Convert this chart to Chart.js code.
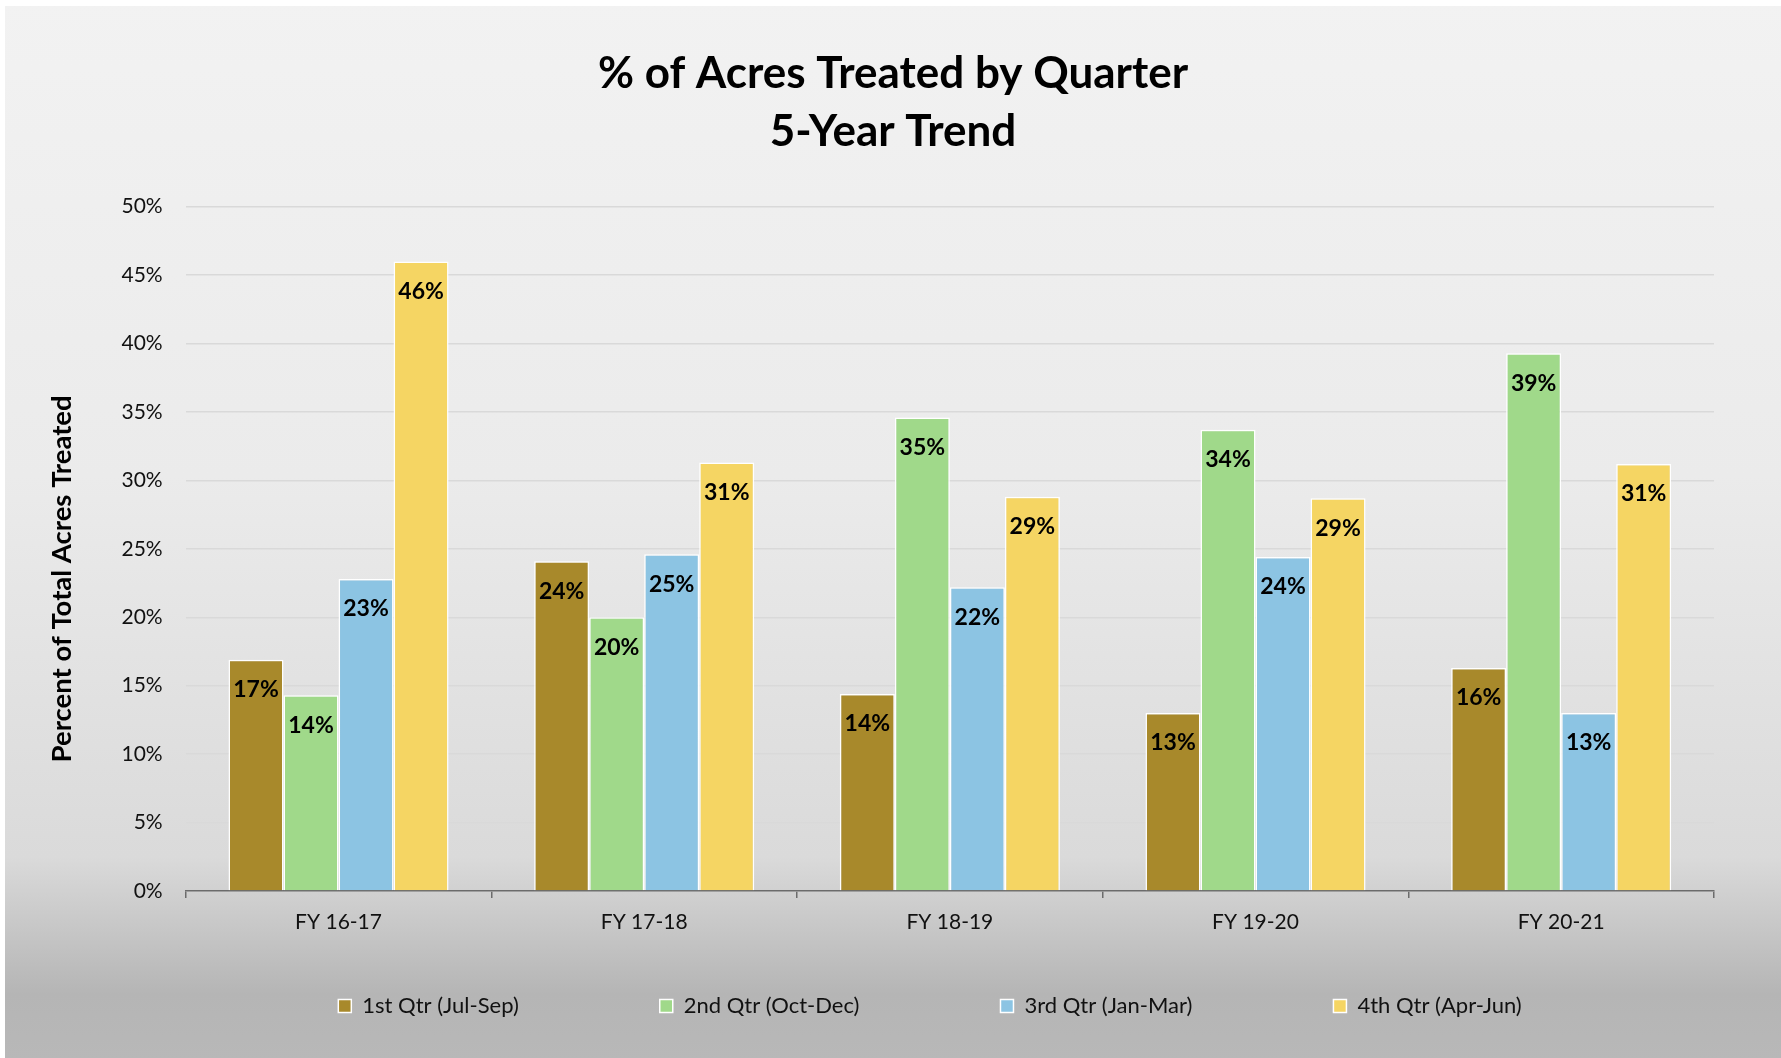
<!DOCTYPE html>
<html><head><meta charset="utf-8">
<script src="https://cdn.jsdelivr.net/npm/chart.js@4.4.1/dist/chart.umd.min.js"></script>
<style>html,body{margin:0;padding:0;background:#fff;overflow:hidden}canvas{display:block}</style>
</head><body>
<canvas id="c" width="1781" height="1058"></canvas>
<script>
const titleLines = ['% of Acres Treated by Quarter', '5-Year Trend'];
const yAxisTitle = 'Percent of Total Acres Treated';
const categories = ['FY 16-17', 'FY 17-18', 'FY 18-19', 'FY 19-20', 'FY 20-21'];
const seriesNames = ['1st Qtr (Jul-Sep)', '2nd Qtr (Oct-Dec)', '3rd Qtr (Jan-Mar)', '4th Qtr (Apr-Jun)'];
const q1Values = [16.9, 24.1, 14.4, 13.0, 16.3];
const q2Values = [14.3, 20.0, 34.6, 33.7, 39.3];
const q3Values = [22.8, 24.6, 22.2, 24.4, 13.0];
const q4Values = [46.0, 31.3, 28.8, 28.7, 31.2];
const yMin = 0, yMax = 50, yStep = 5;
const seriesColors = ['#a8892b', '#a0d98a', '#8cc4e3', '#f5d563'];

const FONT = 'Lato';

const bgPlugin = {
  id: 'bg',
  beforeDraw(chart) {
    const { ctx, width, height } = chart;
    const g = ctx.createLinearGradient(0, 0, 0, height);
    g.addColorStop(0, '#f2f2f2');
    g.addColorStop(0.45, '#ebebeb');
    g.addColorStop(0.81, '#dadada');
    g.addColorStop(0.94, '#b5b5b5');
    g.addColorStop(1, '#b8b8b8');
    ctx.save();
    ctx.fillStyle = g;
    ctx.fillRect(5, 6, width - 5, height - 6);
    ctx.restore();
  }
};

const legendShift = {
  id: 'legendShift',
  afterLayout(chart) {
    const lg = chart.legend;
    if (!lg) return;
    const dx = 930 - (lg.left + lg.right) / 2;
    lg.left += dx; lg.right += dx;
    const pad = lg.options.labels.padding;
    const fs = lg.options.labels.font.size;
    const ih = Math.max(fs, lg.options.labels.boxHeight);
    lg.top = 1006 - pad - ih / 2;
  }
};

const valueLabels = {
  id: 'valueLabels',
  afterDatasetsDraw(chart) {
    const ctx = chart.ctx;
    ctx.save();
    ctx.font = 'bold 23px ' + FONT;
    ctx.fillStyle = '#000';
    ctx.textAlign = 'center';
    ctx.textBaseline = 'middle';
    chart.data.datasets.forEach((ds, i) => {
      chart.getDatasetMeta(i).data.forEach((el, j) => {
        ctx.fillText(Math.round(ds.data[j]) + '%', el.x, el.y + 30);
      });
    });
    ctx.restore();
  }
};

const allValues = [q1Values, q2Values, q3Values, q4Values];

new Chart(document.getElementById('c'), {
  type: 'bar',
  data: {
    labels: categories,
    datasets: seriesNames.map((name, i) => ({
      label: name,
      data: allValues[i],
      backgroundColor: seriesColors[i],
      borderColor: '#ffffff',
      borderWidth: 1.5,
      borderSkipped: 'start',
      categoryPercentage: 0.72,
      barPercentage: 1.0
    }))
  },
  options: {
    responsive: false,
    animation: false,
    devicePixelRatio: 1,
    layout: { padding: { left: 5, top: 6, right: 0, bottom: 0 } },
    plugins: {
      title: {
        display: true,
        text: titleLines,
        color: '#000',
        font: { family: FONT, size: 44, weight: 'bold', lineHeight: 1.318 },
        padding: { top: 38.5, bottom: 46.2 }
      },
      legend: {
        display: true,
        position: 'bottom',
        maxHeight: 76,
        labels: {
          padding: 141,
          boxWidth: 13,
          boxHeight: 13,
          color: '#111',
          font: { family: FONT, size: 22 }
        }
      },
      tooltip: { enabled: false }
    },
    scales: {
      x: {
        grid: { display: true, drawOnChartArea: false, drawTicks: true, tickLength: 7, color: '#6b6b6b', lineWidth: 1.5, offset: true },
        border: { display: true, color: '#6b6b6b', width: 1.5 },
        ticks: { color: '#111', font: { family: FONT, size: 21 }, padding: 12 },
        afterFit(s) { s.height = 91; }
      },
      y: {
        min: yMin, max: yMax,
        ticks: { stepSize: yStep, color: '#111', font: { family: FONT, size: 21 }, padding: 23, callback: v => v + '%' },
        grid: { color: '#d9d9d9', lineWidth: 1.5, drawTicks: false },
        border: { display: false },
        title: {
          display: true,
          text: yAxisTitle + '         ',
          color: '#000',
          font: { family: FONT, size: 27.5, weight: 'bold', lineHeight: 1.2 },
          padding: { top: 41, bottom: 0 }
        },
        afterFit(s) { s.width = 180.7; }
      },
      yRight: {
        position: 'right',
        display: true,
        ticks: { display: false },
        grid: { display: false },
        border: { display: false },
        afterFit(s) { s.width = 67; }
      }
    }
  },
  plugins: [bgPlugin, legendShift, valueLabels]
});
</script>
</body></html>
